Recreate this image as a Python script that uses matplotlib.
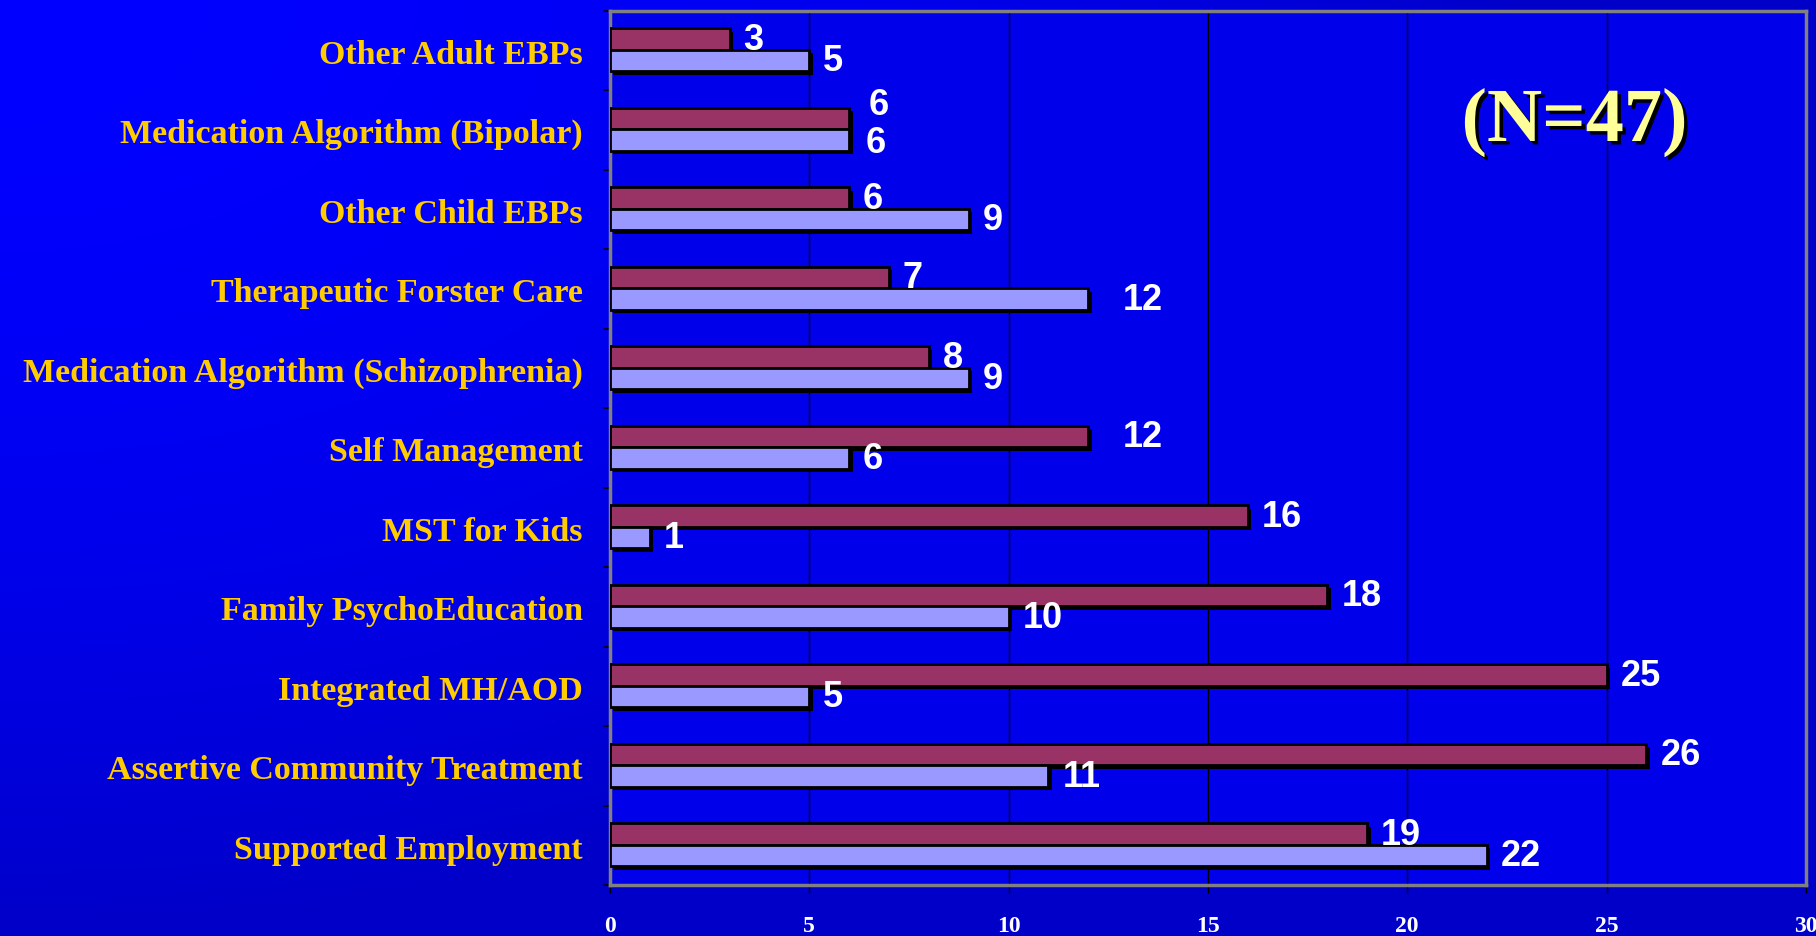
import numpy as np
import matplotlib
matplotlib.use('Agg')
import matplotlib.pyplot as plt
import matplotlib.patheffects as pe

# data, bottom row first (barh draws upward)
categories = ['Supported Employment', 'Assertive Community Treatment', 'Integrated MH/AOD',
              'Family PsychoEducation', 'MST for Kids', 'Self Management',
              'Medication Algorithm (Schizophrenia)', 'Therapeutic Forster Care',
              'Other Child EBPs', 'Medication Algorithm (Bipolar)', 'Other Adult EBPs']
series_a = [19, 26, 25, 18, 16, 12, 8, 7, 6, 6, 3]    # maroon bars
series_b = [22, 11, 5, 10, 1, 6, 9, 12, 9, 6, 5]      # lavender bars
x_ticks = [0, 5, 10, 15, 20, 25, 30]
note = '(N=47)'

serif = 'Liberation Serif'
sans = 'Liberation Sans'

fig = plt.figure(figsize=(18.16, 9.37), dpi=100)
fig.patch.set_facecolor('#0000E0')

# blue gradient background, bright top-left, darker to bottom/right
bg = fig.add_axes([0, 0, 1, 1], zorder=-10)
yy, xx = np.mgrid[0:1:300j, 0:1:600j]
r2 = (xx / 0.85) ** 2 + yy ** 2
img = np.zeros((300, 600, 3))
img[..., 2] = (255 - 55 * np.clip(r2, 0, 1)) / 255
bg.imshow(img, aspect='auto')
bg.axis('off')

ax = fig.add_axes([0.3359, 0.0539, 0.6585, 0.9333])
ax.set_facecolor('#0000EA')

y = np.arange(len(categories))
h = 0.27
shadow = [pe.withSimplePatchShadow(offset=(2.5, -2.5), shadow_rgbFace='black', alpha=1)]
bars_a = ax.barh(y + 0.145, series_a, height=h, color='#993366', edgecolor='black',
                 linewidth=2, path_effects=shadow, zorder=3)
bars_b = ax.barh(y - 0.125, series_b, height=h, color='#9999FF', edgecolor='black',
                 linewidth=2, path_effects=shadow, zorder=3)

labels_a = ax.bar_label(bars_a, padding=10, color='white', fontsize=26, fontweight='bold',
                        family=sans, zorder=4)
labels_b = ax.bar_label(bars_b, padding=10, color='white', fontsize=26, fontweight='bold',
                        family=sans, zorder=4)

# equal values in the Bipolar row: lift the upper label so the two don't overlap
i = categories.index('Medication Algorithm (Bipolar)')
labels_a[i].xyann = (14, 10)
labels_b[i].xyann = (12, -2)
# the two "12" labels sit a bit further out in the original
labels_a[categories.index('Self Management')].xyann = (25, 0)
labels_b[categories.index('Therapeutic Forster Care')].xyann = (25, 0)

ax.set_xlim(0, 30)
ax.set_ylim(-0.5, len(categories) - 0.5)

ax.set_xticks(x_ticks)
ax.set_xticklabels([str(t) for t in x_ticks], family=serif, fontweight='bold',
                   fontsize=17, color='white')
ax.tick_params(axis='x', direction='out', length=6, width=1, color='black', pad=15)

ax.set_yticks(y)
ax.set_yticklabels(categories, family=serif, fontweight='bold', fontsize=24.5,
                   color='#FFCC00')
ax.tick_params(axis='y', length=0, pad=19.5)
ax.set_yticks(np.arange(-0.5, len(categories), 1), minor=True)
ax.tick_params(axis='y', which='minor', direction='out', length=5, width=1.2, color='black')

ax.xaxis.grid(True, color='black', linewidth=1)
ax.set_axisbelow(True)
for s in ax.spines.values():
    s.set_color('#808080')
    s.set_linewidth(2.5)

fig.text(0.867, 1 - 142 / 937, note, ha='center', va='baseline', fontsize=55,
         fontweight='bold', family=serif, color='#FFFF99',
         path_effects=[pe.withSimplePatchShadow(offset=(2.5, -2.5), shadow_rgbFace='black', alpha=1)])

fig.savefig('out.png', dpi=100, facecolor=fig.get_facecolor())
